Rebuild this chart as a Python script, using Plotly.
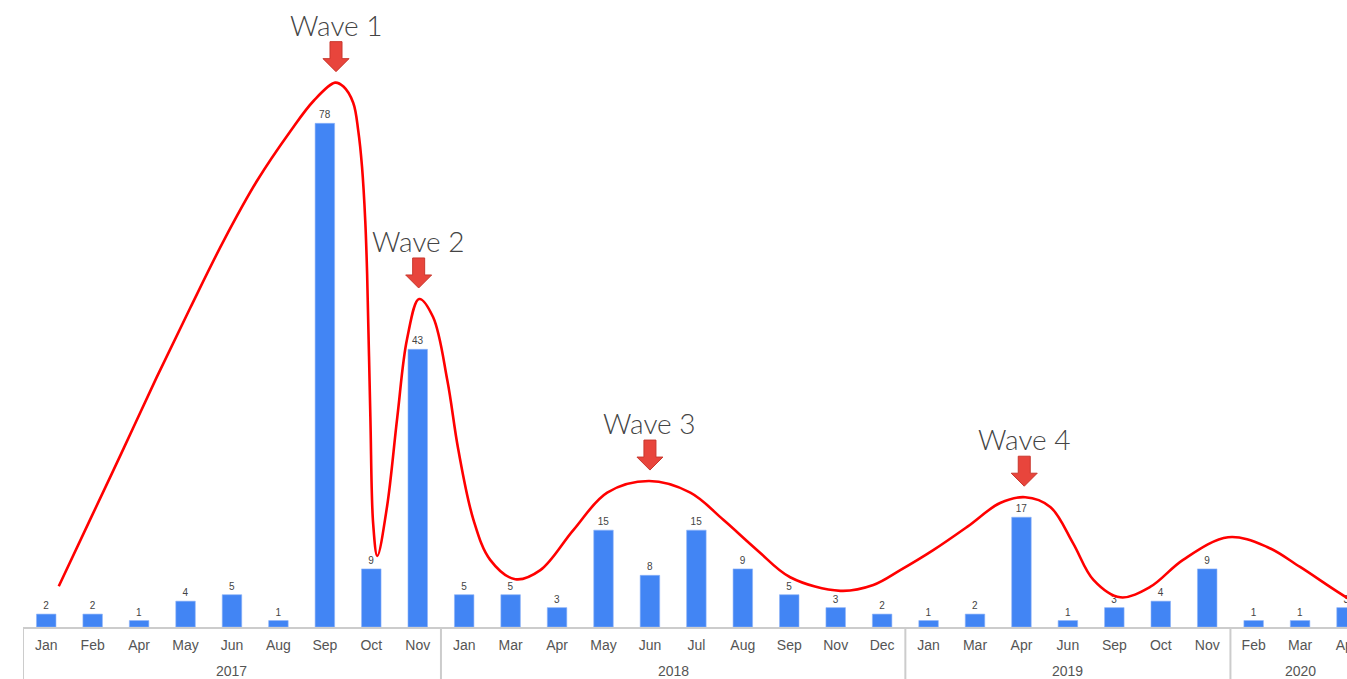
import plotly.graph_objects as go

# ---- bar data ----
years = ["2017", "2017", "2017", "2017", "2017", "2017", "2017", "2017", "2017",
         "2018", "2018", "2018", "2018", "2018", "2018", "2018", "2018", "2018", "2018",
         "2019", "2019", "2019", "2019", "2019", "2019", "2019",
         "2020", "2020", "2020"]
months = ["Jan", "Feb", "Apr", "May", "Jun", "Aug", "Sep", "Oct", "Nov",
          "Jan", "Mar", "Apr", "May", "Jun", "Jul", "Aug", "Sep", "Nov", "Dec",
          "Jan", "Mar", "Apr", "Jun", "Sep", "Oct", "Nov",
          "Feb", "Mar", "Apr"]
values = [2, 2, 1, 4, 5, 1, 78, 9, 43,
          5, 5, 3, 15, 8, 15, 9, 5, 3, 2,
          1, 2, 17, 1, 3, 4, 9,
          1, 1, 3]

# ---- hand-drawn wave curve (category position, value) ----
curve_x = [0.27, 0.95, 1.67, 2.38, 3.10, 3.82, 4.54, 5.25, 5.76, 6.22, 6.40,
           6.61, 6.72, 6.80, 6.87, 6.91, 6.98, 7.04, 7.13,
           7.34, 7.56, 7.77, 8.03, 8.33, 8.64, 8.87, 9.20, 9.56, 10.10, 10.64, 11.35,
           12.08, 12.98, 13.87, 14.58, 15.31, 16.02, 17.10, 17.81, 18.39, 19.10, 19.83,
           20.54, 21.08, 21.62, 22.11, 22.55, 23.13, 23.77, 24.48, 25.45, 26.29, 27.00,
           28.02, 28.4]
curve_y = [6.3, 16.7, 27.7, 38.7, 49.4, 59.8, 69.1, 76.7, 81.5, 84.3, 83.7,
           81.2, 76.8, 71.3, 62.9, 54.7, 32.5, 16.0, 11.0,
           18.7, 32.5, 44.6, 50.8, 48.0, 38.1, 27.6, 16.6, 10.4, 7.4, 8.8, 15.0,
           20.8, 22.6, 20.8, 16.6, 11.9, 7.7, 5.6, 6.5, 8.8, 11.9, 15.5,
           19.2, 20.1, 18.6, 13.0, 7.3, 4.6, 6.2, 10.4, 13.9, 12.4, 9.3,
           4.5, 3.2]

# ---- wave labels ----
wave_names = ["Wave 1", "Wave 2", "Wave 3", "Wave 4"]
wave_x = [6.24, 8.02, 13.0, 21.06]
wave_y = [84.3, 50.8, 22.6, 20.1]

positions = list(range(len(months)))

# year groups derived from the data
groups = []
for i, yr in enumerate(years):
    if not groups or groups[-1][0] != yr:
        groups.append([yr, i, i])
    else:
        groups[-1][2] = i

fig = go.Figure()

fig.add_trace(go.Bar(
    x=positions, y=values,
    marker=dict(color="#4285F4", line=dict(color="#8fb4f9", width=0.6)),
    text=values, textposition="outside",
    textfont=dict(family="Arial, Liberation Sans, sans-serif", size=10, color="#444444"),
    width=0.42, showlegend=False, hoverinfo="skip",
))

fig.add_trace(go.Scatter(
    x=curve_x, y=curve_y,
    mode="lines", line=dict(color="#ff0000", width=2.6, shape="spline", smoothing=1.0),
    showlegend=False, hoverinfo="skip",
))

arrow_path = "M -6,41 L 6,41 L 6,24 L 13,24 L 0,11 L -13,24 L -6,24 Z"
for name, wx, wy in zip(wave_names, wave_x, wave_y):
    fig.add_shape(type="path", xref="x", yref="y",
                  xsizemode="pixel", ysizemode="pixel",
                  xanchor=wx, yanchor=wy, path=arrow_path,
                  fillcolor="#E8453C", line=dict(color="#C9372D", width=1))
    fig.add_annotation(x=wx, y=wy, xref="x", yref="y", text=name, showarrow=False,
                       yshift=58, yanchor="middle",
                       font=dict(family="Lato, Open Sans, sans-serif", size=28,
                                 color="#444444", weight=300))

# year labels and group dividers
for yr, a, b in groups:
    fig.add_annotation(x=(a + b) / 2, y=0, xref="x", yref="paper", text=yr,
                       showarrow=False, yanchor="middle", yshift=-44,
                       font=dict(family="Arial, Liberation Sans, sans-serif", size=14,
                                 color="#555555"))
    fig.add_shape(type="line", xref="x", yref="paper", x0=a - 0.5, x1=a - 0.5,
                  y0=0, y1=-0.1, line=dict(color="#cccccc", width=2))

fig.update_layout(
    width=1347, height=679,
    margin=dict(l=23, r=0, t=0, b=52, autoexpand=False),
    paper_bgcolor="white", plot_bgcolor="white",
    xaxis=dict(range=[-0.5, 28.01], tickvals=positions, ticktext=months,
               showline=True, linecolor="#cccccc", linewidth=2, automargin=False,
               showgrid=False, zeroline=False, ticks="", ticklabelstandoff=4,
               ticklabeloverflow="allow",
               tickfont=dict(family="Arial, Liberation Sans, sans-serif", size=14,
                             color="#555555")),
    yaxis=dict(range=[0, 97.1], visible=False, showgrid=False, zeroline=False,
               automargin=False),
)

fig.write_html("out.html", config={"displayModeBar": False},
               post_script="document.body.style.margin='0';document.body.style.overflow='hidden';")
